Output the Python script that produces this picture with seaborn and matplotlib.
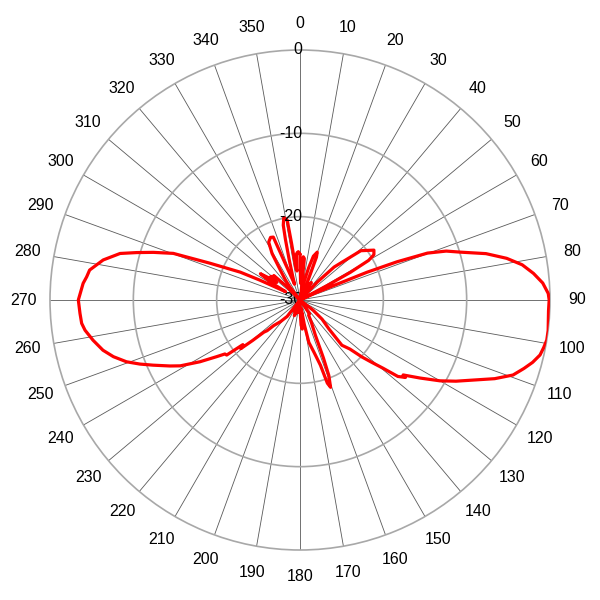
import numpy as np
import pandas as pd
import matplotlib
matplotlib.use("Agg")
import matplotlib.pyplot as plt
import matplotlib.transforms as mtransforms
import seaborn as sns

# ---- data (angle in degrees, gain in dB), in drawing order ----
angles_deg = [
    0, 2, 4.4, 6, 8, 10, 12, 15, 17, 19.8, 21, 23, 26, 30, 33, 36, 40,
    44, 46, 51, 56, 58.5, 60, 61.2, 62, 63.5, 65.5, 66.8, 67.5, 68.5, 69.8,
    71.5, 73.4, 76, 78.6, 81, 83.5, 86, 88.5, 90, 92.5, 94.6, 97, 99.2, 101,
    102.9, 105, 107, 109.4, 112, 114.8, 117.5, 120, 123, 126, 126.3, 128,
    129.4, 131, 132.6, 134.5, 137.2, 135, 131, 128, 142, 145, 150.4, 153,
    156.4, 158, 159.1, 160.7, 161.8, 162.6, 165, 168.2, 170, 172, 174, 175.6,
    177.5, 180, 183, 186, 190, 195, 200, 205, 210, 214, 218, 222, 225.8, 227,
    228.3, 229.5, 230.6, 232, 233.1, 234.3, 235.8, 238.3, 241.2, 243.1, 246.1,
    248.2, 250.4, 253.1, 255.7, 259, 262, 263.9, 266.5, 270, 274.4, 276.2,
    278.1, 281.5, 284.5, 286.2, 288, 290.2, 292.2, 295, 296.3, 298, 300, 301,
    303.6, 305.5, 307, 309, 311, 313.1, 315, 318, 322, 324, 326.5, 329, 331.6,
    334.8, 337, 337.5, 339, 341, 343, 345, 346.5, 347.4, 348.9, 350.9, 351.5,
    352.5, 354, 355.5, 356.6, 358, 360,
]
gain_db = [
    -24.5, -28, -24.8, -25, -29, -30, -28, -26, -24.5, -23.9, -24.5, -28, -30, -28, -27.5, -29, -30,
    -27, -24.3, -20.6, -19.3, -19.6, -20.5, -23.1, -26.3, -30, -28, -25.6, -21.3, -17.5, -13.7,
    -11.5, -9.9, -7, -4.7, -3, -1.8, -0.8, -0.2, -0.1, -0.15, -0.1, 0, 0, -0.2,
    -0.45, -1.1, -1.9, -2.9, -4.8, -7.1, -8.9, -10.6, -12.8, -14.7, -14.3, -15.1,
    -17.1, -18.6, -19.9, -21.6, -22.6, -25.1, -26.5, -28, -30, -28, -27.9, -27,
    -25.4, -22.5, -20.3, -18.9, -19.5, -21.8, -23.5, -24.8, -27, -29, -27.5, -26.5,
    -27, -29, -30, -28.5, -30, -28.5, -28, -30, -28.5, -30, -27.5, -26.5, -25.6, -24.6,
    -24.2, -22.5, -20.8, -21.3, -19, -18.9, -17.9, -15.9, -13.6, -12.5, -10.7,
    -9.3, -7.9, -6.6, -5.6, -4.7, -3.95, -3.65, -3.55, -3.4, -3.9, -4.25,
    -4.5, -5.9, -7.7, -9.6, -11.5, -13.8, -18.3, -22.1, -24.6, -27, -28, -26,
    -24.3, -25.5, -26.5, -25.5, -25.8, -25.7, -27.5, -30, -28, -27, -25.8, -23.5, -22.1,
    -21.7, -21.8, -24, -26.5, -28, -27, -25, -22.5, -20.8, -19.9, -20.3, -23,
    -26, -26.5, -24.5, -24.3, -24.2, -24.5,
]

angle_ticks = list(range(0, 360, 10))
angle_labels = [str(a) for a in angle_ticks]
ring_values = [0, -10, -20, -30]
ring_labels = ["0", "-10", "-20", "-30"]

R_MIN, R_MAX = -30, 0

# ---- style ----
sns.set_style("white")
plt.rcParams["font.family"] = ["Liberation Sans", "DejaVu Sans"]

fig = plt.figure(figsize=(6, 6), dpi=100)
ax = fig.add_axes([50 / 600, 50 / 600, 500 / 600, 500 / 600], projection="polar")
ax.set_theta_zero_location("N")
ax.set_theta_direction(-1)
ax.set_ylim(R_MIN, R_MAX)

# grid
ax.set_xticks(np.deg2rad(angle_ticks))
ax.set_xticklabels([])
ax.set_yticks(ring_values[1:3])
ax.set_yticklabels([])
ax.xaxis.grid(True, color="#5a5a5a", linewidth=0.6)
ax.yaxis.grid(True, color="#a8a8a8", linewidth=1.2)
ax.spines["polar"].set_color("#a8a8a8")
ax.spines["polar"].set_linewidth(1.2)
ax.tick_params(length=0)

df = pd.DataFrame({"theta": np.deg2rad(angles_deg), "gain": gain_db})
sns.lineplot(data=df, x="theta", y="gain", sort=False, estimator=None,
             color="#ff0000", linewidth=2.3, ax=ax, zorder=5)
ax.set_xlabel("")
ax.set_ylabel("")
ax.set_ylim(R_MIN, R_MAX)

# angle labels
label_r = R_MAX + 3.2
for a, lab in zip(angle_ticks, angle_labels):
    ax.text(np.deg2rad(a), label_r, lab, ha="center", va="center",
            fontsize=11.5, color="black", clip_on=False)

# ring labels (right-aligned just left of the 0 spoke)
off = mtransforms.offset_copy(ax.transData, fig=fig, x=2, y=0, units="dots")
for v, lab in zip(ring_values, ring_labels):
    ax.text(0, v, lab, transform=off, ha="right", va="center",
            fontsize=11.5, color="black", zorder=6 if v > -30 else 3)

fig.savefig("out.png", dpi=100)
